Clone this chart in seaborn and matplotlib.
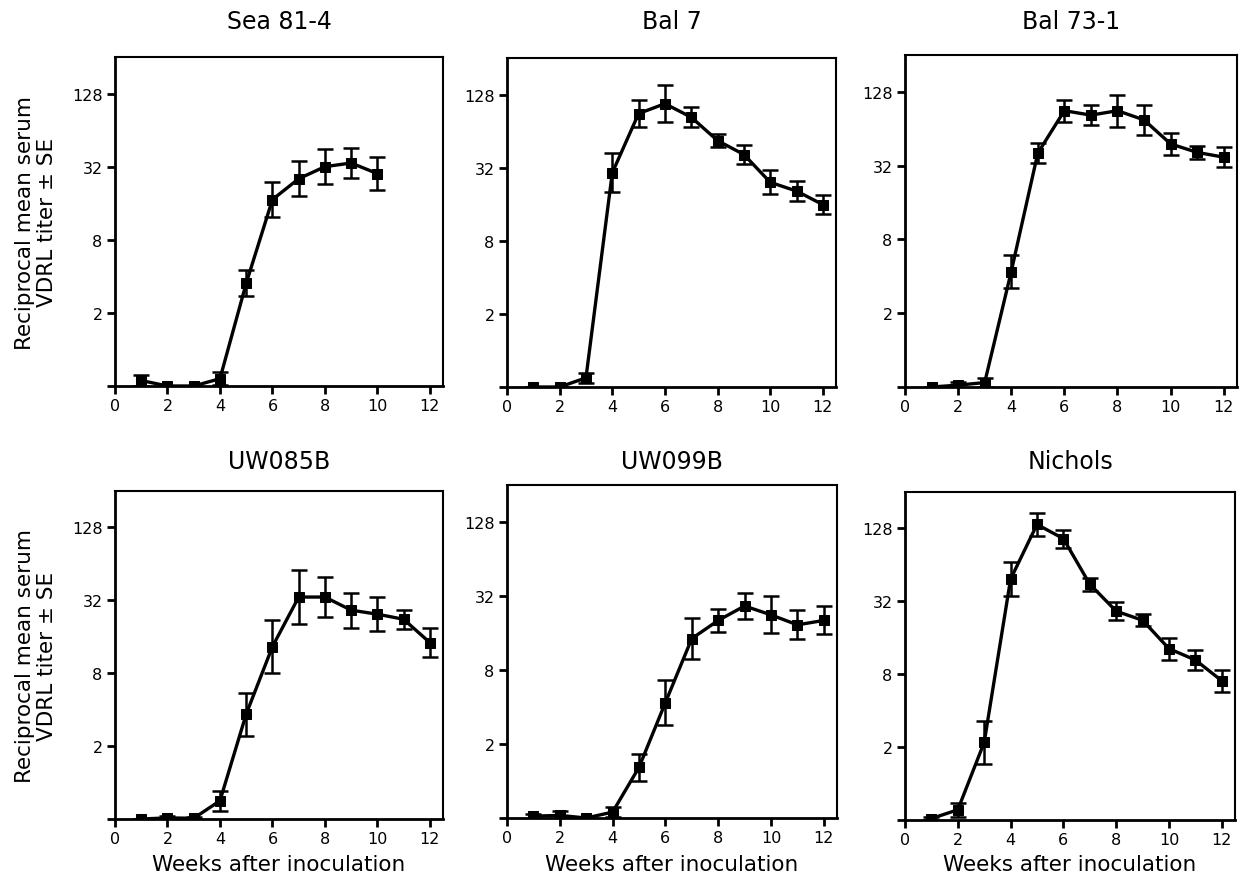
import numpy as np
import pandas as pd
import seaborn as sns
import matplotlib.pyplot as plt
from matplotlib.ticker import FixedLocator, FixedFormatter

# log2 mean titers and SE (log2 units)
strains = ['Sea 81-4', 'Bal 7', 'Bal 73-1', 'UW085B', 'UW099B', 'Nichols']

sea_weeks = [1, 2, 3, 4, 5, 6, 7, 8, 9, 10]
sea_mean = [-0.85, -1.0, -1.0, -0.8, 1.81, 4.1, 4.67, 5.0, 5.1, 4.81]
sea_se = [0.15, 0.0, 0.0, 0.17, 0.35, 0.47, 0.48, 0.48, 0.42, 0.46]

bal7_weeks = [1, 2, 3, 4, 5, 6, 7, 8, 9, 10, 11, 12]
bal7_mean = [-1.0, -1.0, -0.75, 4.86, 6.48, 6.75, 6.38, 5.74, 5.36, 4.6, 4.36, 3.99]
bal7_se = [0.0, 0.0, 0.14, 0.53, 0.37, 0.5, 0.27, 0.17, 0.27, 0.33, 0.27, 0.27]

bal73_weeks = [1, 2, 3, 4, 5, 6, 7, 8, 9, 10, 11, 12]
bal73_mean = [-1.0, -0.95, -0.88, 2.13, 5.34, 6.49, 6.37, 6.49, 6.24, 5.59, 5.36, 5.23]
bal73_se = [0.0, 0.08, 0.12, 0.44, 0.27, 0.3, 0.28, 0.43, 0.4, 0.3, 0.18, 0.27]

uw085_weeks = [1, 2, 3, 4, 5, 6, 7, 8, 9, 10, 11, 12]
uw085_mean = [-1.0, -0.97, -0.98, -0.5, 1.88, 3.73, 5.09, 5.09, 4.73, 4.62, 4.48, 3.84]
uw085_se = [0.0, 0.06, 0.03, 0.27, 0.59, 0.73, 0.73, 0.56, 0.48, 0.46, 0.26, 0.4]

uw099_weeks = [1, 2, 3, 4, 5, 6, 7, 8, 9, 10, 11, 12]
uw099_mean = [-0.95, -0.93, -1.0, -0.84, 0.37, 2.12, 3.85, 4.34, 4.73, 4.49, 4.22, 4.34]
uw099_se = [0.07, 0.12, 0.0, 0.14, 0.36, 0.6, 0.56, 0.31, 0.36, 0.5, 0.39, 0.38]

nic_weeks = [1, 2, 3, 4, 5, 6, 7, 8, 9, 10, 11, 12]
nic_mean = [-0.96, -0.72, 1.13, 5.61, 7.11, 6.72, 5.47, 4.73, 4.48, 3.7, 3.39, 2.82]
nic_se = [0.05, 0.2, 0.59, 0.47, 0.31, 0.25, 0.18, 0.25, 0.17, 0.3, 0.27, 0.3]

all_weeks = [sea_weeks, bal7_weeks, bal73_weeks, uw085_weeks, uw099_weeks, nic_weeks]
all_mean = [sea_mean, bal7_mean, bal73_mean, uw085_mean, uw099_mean, nic_mean]
all_se = [sea_se, bal7_se, bal73_se, uw085_se, uw099_se, nic_se]

y_ticks = [0.5, 2, 8, 32, 128]
y_labels = ['', '2', '8', '32', '128']
x_ticks = [0, 2, 4, 6, 8, 10, 12]

sns.set_style('white')
plt.rcParams['font.family'] = ['DejaVu Sans']
plt.rcParams['text.color'] = 'black'
plt.rcParams['axes.labelcolor'] = 'black'
plt.rcParams['xtick.color'] = 'black'
plt.rcParams['ytick.color'] = 'black'

W, H = 1241, 879
fig = plt.figure(figsize=(W / 100, H / 100), dpi=100)

# axes boxes in pixels: left, top, right, bottom
boxes = [(115, 58, 443, 387), (507, 59, 836, 388), (905, 56, 1237, 388),
         (115, 492, 443, 820), (507, 486, 837, 819), (905, 493, 1235, 821)]
title_y = [22, 22, 22, 462, 462, 462]

for i, name in enumerate(strains):
    l, t, r, b = boxes[i]
    ax = fig.add_axes([l / W, 1 - b / H, (r - l) / W, (b - t) / H])
    df = pd.DataFrame({'week': all_weeks[i], 'mean': all_mean[i], 'se': all_se[i]})
    df['titer'] = 2 ** df['mean']
    lo = df['titer'] - 2 ** (df['mean'] - df['se'])
    hi = 2 ** (df['mean'] + df['se']) - df['titer']
    ax.errorbar(df['week'], df['titer'], yerr=[lo, hi], fmt='none', ecolor='black',
                elinewidth=1.8, capsize=6, capthick=1.8, zorder=3)
    sns.lineplot(data=df, x='week', y='titer', ax=ax, color='black', linewidth=2.4,
                 marker='s', markersize=6.5, markeredgecolor='black', zorder=4)
    ax.set_yscale('log', base=2)
    ax.set_ylim(0.5, 256)
    ax.set_xlim(0, 12.5)
    ax.yaxis.set_major_locator(FixedLocator(y_ticks))
    ax.yaxis.set_major_formatter(FixedFormatter(y_labels))
    ax.yaxis.set_minor_locator(FixedLocator([]))
    ax.set_xticks(x_ticks)
    ax.tick_params(axis='both', direction='out', length=6, width=2, labelsize=11.5,
                   left=True, bottom=True, pad=3)
    for side in ['top', 'right']:
        ax.spines[side].set_linewidth(1.5)
    for side in ['left', 'bottom']:
        ax.spines[side].set_linewidth(2)
    for sp in ax.spines.values():
        sp.set_color('black')
    ax.set_xlabel('')
    ax.set_ylabel('Reciprocal mean serum\nVDRL titer ± SE' if i % 3 == 0 else '',
                  fontsize=15.5, linespacing=1.1, labelpad=11)
    cx = (l + r) / 2 / W
    fig.text(cx, 1 - title_y[i] / H, name, fontsize=17, ha='center', va='center')
    if i >= 3:
        fig.text(cx, 1 - 865 / H, 'Weeks after inoculation', fontsize=15.5,
                 ha='center', va='center')

plt.savefig('out.png', dpi=100)
